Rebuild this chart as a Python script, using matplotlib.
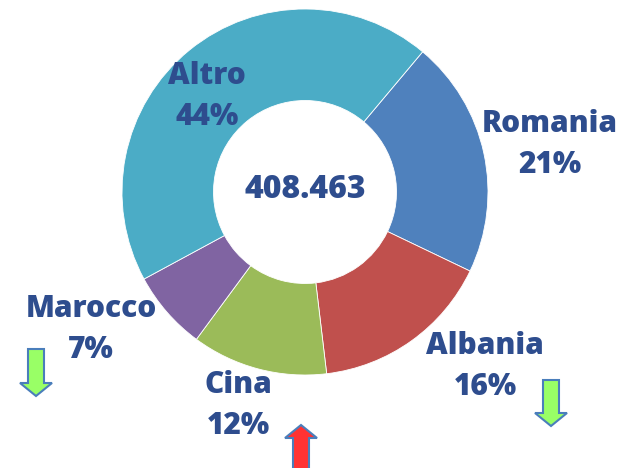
import matplotlib
matplotlib.use("Agg")
import matplotlib.pyplot as plt
from matplotlib.patches import Polygon

categories = ["Romania", "Albania", "Cina", "Marocco", "Altro"]
shares = [21, 16, 12, 7, 44]
colors = ["#4F81BD", "#C0504D", "#9BBB59", "#8064A2", "#4BACC6"]
total_label = "408.463"
# trend arrows: (category, direction)
trends = {"Marocco": "down", "Albania": "down", "Cina": "up"}

W, H = 623, 468
fig = plt.figure(figsize=(W / 100, H / 100), dpi=100)
ax = fig.add_axes([0, 0, 1, 1])

cx, cy, R = 305, H - 192, 183
ax.pie(shares, colors=colors, startangle=50, counterclock=False,
       center=(cx, cy), radius=R, frame=True,
       wedgeprops=dict(width=R * 0.5, edgecolor="white", linewidth=0.6))
ax.set_xlim(0, W)
ax.set_ylim(0, H)
ax.set_aspect("equal")
ax.axis("off")

tc = "#2E4D8E"
font = dict(family="Open Sans", weight=800, color=tc, ha="center", va="center")
label_pos = {"Romania": (550, 124), "Albania": (485, 346), "Cina": (238, 385),
             "Marocco": (91, 309), "Altro": (207, 76)}
for cat, sh in zip(categories, shares):
    x, y = label_pos[cat]
    ax.text(x, H - y, cat, fontsize=21.5, **font)
    ax.text(x, H - y - 41, f"{sh}%", fontsize=21.5, **font)

ax.text(cx, H - 190, total_label, fontsize=23, **font)

def arrow(xc, top, bottom, direction, fill):
    sw, hw, hl = 8, 16, 13
    if direction == "down":
        pts = [(xc - sw, top), (xc + sw, top), (xc + sw, bottom - hl), (xc + hw, bottom - hl),
               (xc, bottom), (xc - hw, bottom - hl), (xc - sw, bottom - hl)]
    else:
        pts = [(xc - sw, bottom), (xc + sw, bottom), (xc + sw, top + hl), (xc + hw, top + hl),
               (xc, top), (xc - hw, top + hl), (xc - sw, top + hl)]
    pts = [(px, H - py) for px, py in pts]
    ax.add_patch(Polygon(pts, closed=True, facecolor=fill, edgecolor="#4A7EBB",
                         linewidth=1.5, joinstyle="miter"))

arrow_pos = {"Marocco": (36, 349, 396), "Albania": (551, 380, 426), "Cina": (301, 425, 475)}
for cat, d in trends.items():
    xc, t, b = arrow_pos[cat]
    arrow(xc, t, b, d, "#99FF66" if d == "down" else "#FF3333")

fig.savefig("out.png", dpi=100)
